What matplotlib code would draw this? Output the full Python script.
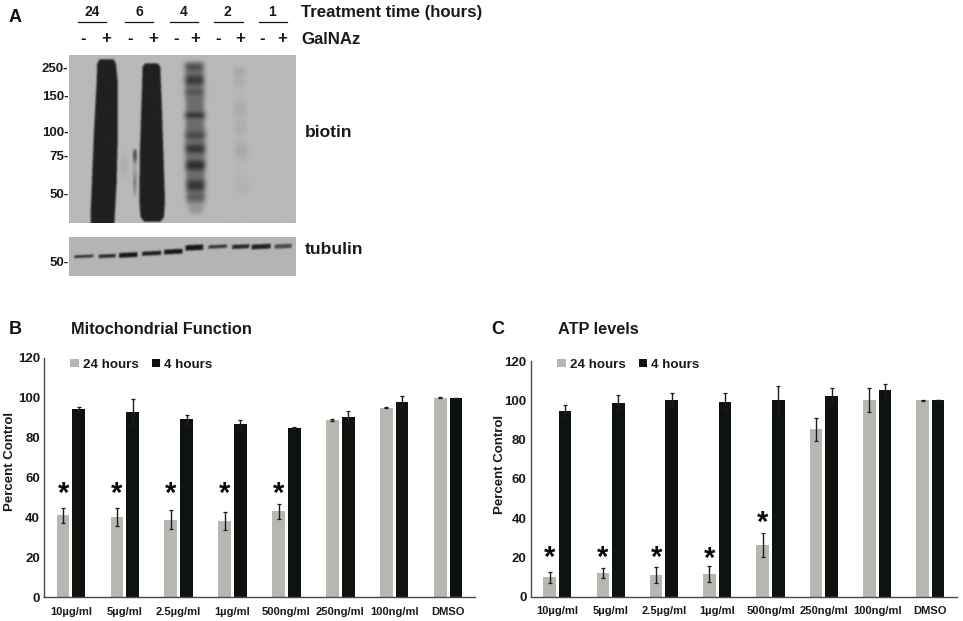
import numpy as np
import matplotlib
matplotlib.use("Agg")
import matplotlib.pyplot as plt

plt.rcParams['font.family'] = ['Liberation Sans', 'DejaVu Sans']
plt.rcParams['font.weight'] = 'bold'

W, H = 963, 621
GRAY = '#b6b7b1'
BLACK = '#0f1310'
TXT = '#1a1a1a'

categories = ['10µg/ml', '5µg/ml', '2.5µg/ml', '1µg/ml', '500ng/ml', '250ng/ml', '100ng/ml', 'DMSO']
y_ticks = [0, 20, 40, 60, 80, 100, 120]

mito_24 = [41.0, 40.0, 38.9, 38.2, 43.0, 89.0, 95.0, 100.0]
mito_24_err = [3.6, 4.5, 4.8, 4.7, 3.8, 0.5, 0.3, 0.2]
mito_4 = [94.5, 92.8, 89.1, 86.6, 84.8, 90.5, 98.0, 100.0]
mito_4_err = [1.0, 6.7, 2.4, 2.4, 0.5, 2.8, 2.7, 0.0]
mito_star = [True, True, True, True, True, False, False, False]
mito_star_y = [53.2, 53.2, 53.2, 53.2, 53.2, 0, 0, 0]

atp_24 = [9.8, 11.9, 11.0, 11.4, 26.3, 85.2, 100.0, 100.0]
atp_24_err = [3.0, 2.6, 4.1, 4.1, 6.0, 5.7, 6.0, 0.2]
atp_4 = [94.4, 98.8, 100.0, 99.2, 100.3, 102.4, 105.3, 100.0]
atp_4_err = [3.0, 3.9, 3.6, 4.4, 7.2, 3.7, 3.0, 0.0]
atp_star = [True, True, True, True, True, False, False, False]
atp_star_y = [21.4, 21.4, 21.4, 20.9, 39.1, 0, 0, 0]

treat_labels = ['24', '6', '4', '2', '1']
mw_biotin = ['250', '150', '100', '75', '50']
mw_tubulin = ['50']

fig = plt.figure(figsize=(W / 100, H / 100), dpi=100, facecolor='white')


def axpx(x0, y0, x1, y1, **kw):
    return fig.add_axes([x0 / W, 1 - y1 / H, (x1 - x0) / W, (y1 - y0) / H], **kw)


def label(x, y, s, size, ha='left', va='center', **kw):
    fig.text(x / W, 1 - y / H, s, fontsize=size, ha=ha, va=va, color=kw.pop('color', TXT), **kw)


def blur(a, sigma):
    r = int(3 * sigma) + 1
    k = np.exp(-0.5 * (np.arange(-r, r + 1) / sigma) ** 2)
    k /= k.sum()
    pad = np.pad(a, r, mode='edge')
    pad = np.apply_along_axis(lambda v: np.convolve(v, k, mode='same'), 0, pad)
    pad = np.apply_along_axis(lambda v: np.convolve(v, k, mode='same'), 1, pad)
    return pad[r:-r, r:-r]


def lane(X, Y, ys, lefts, rights):
    L = np.interp(Y, ys, lefts)
    R = np.interp(Y, ys, rights)
    return ((X > L) & (X < R) & (Y >= ys[0]) & (Y <= ys[-1])).astype(float)


# ---- blot image, in units of 1/3 figure pixel ----
xs = np.arange(208, 888)
ys_b = np.arange(165, 668)
X, Y = np.meshgrid(xs, ys_b)
dark = np.zeros_like(X, dtype=float)

m = lane(X, Y, [178, 190, 250, 400, 550, 640, 700],
         [298, 292, 290, 282, 276, 272, 272], [342, 348, 354, 354, 350, 345, 342])
dark = np.maximum(dark, blur(m, 2.5))
m = lane(X, Y, [190, 200, 300, 450, 600, 650, 663],
         [435, 428, 425, 420, 418, 422, 432], [474, 481, 485, 490, 495, 492, 482])
dark = np.maximum(dark, blur(m, 2.5))

# lane 4 (+): smeared bands
band_y = [200, 240, 275, 345, 405, 445, 495, 555, 590, 625]
band_d = [.72, .85, .68, .95, .75, .88, .95, .88, .62, .25]
band_s = [16, 18, 14, 9, 15, 16, 17, 20, 16, 12]
prof = np.zeros_like(Y, dtype=float)
for by, bd, bs in zip(band_y, band_d, band_s):
    prof = np.maximum(prof, bd * np.exp(-0.5 * ((Y - by) / bs) ** 2))
prof = np.maximum(prof, 0.5 * lane(X, Y, [190, 600], [556, 556], [614, 614]))
m4 = blur(lane(X, Y, [186, 400, 600, 645], [556, 555, 560, 572], [610, 616, 614, 606]), 5)
dark = np.maximum(dark, blur(prof * m4, 5))

# lane 2 (+): faint smear
band_y2 = [215, 245, 325, 380, 450, 560]
band_d2 = [.10, .08, .09, .07, .11, .05]
band_s2 = [16, 16, 22, 24, 20, 30]
prof = np.zeros_like(Y, dtype=float)
for by, bd, bs in zip(band_y2, band_d2, band_s2):
    prof = np.maximum(prof, bd * np.exp(-0.5 * ((Y - by) / bs) ** 2))
dark = np.maximum(dark, prof * blur(lane(X, Y, [195, 580], [700, 708], [735, 745]), 6))

# lane 6 (-): faint streak
prof = 0.7 * np.exp(-0.5 * ((Y - 465) / 16) ** 2) + 0.35 * np.exp(-0.5 * ((Y - 545) / 26) ** 2)
dark = np.maximum(dark, prof * blur(lane(X, Y, [445, 590], [399, 399], [411, 411]), 2.5))
prof = 0.07 * np.exp(-0.5 * ((Y - 495) / 28) ** 2)
dark = np.maximum(dark, prof * blur(lane(X, Y, [450, 550], [362, 362], [384, 384]), 4))

ax_blot = axpx(208 / 3, 165 / 3, 888 / 3, 668 / 3)
ax_blot.imshow(0.725 - 0.60 * dark, cmap='gray', vmin=0, vmax=1, aspect='auto', interpolation='bilinear')
ax_blot.axis('off')

# tubulin image
xs_t = np.arange(208, 888)
ys_t = np.arange(711, 827)
X2, Y2 = np.meshgrid(xs_t, ys_t)
tub_x = [252, 322, 385, 455, 520, 583, 653, 722, 783, 849]
tub_y = [768, 767, 764, 759, 754, 742, 739, 739, 739, 738]
tub_w = [29, 26, 28, 29, 28, 27, 28, 26, 29, 26]
tub_h = [4, 5, 7, 6, 7, 8, 5, 6, 7, 6]
tub_d = [.85, .9, 1, .95, 1, 1, .8, .9, .95, .7]
d2 = np.zeros_like(X2, dtype=float)
for tx, ty, tw, th, td in zip(tub_x, tub_y, tub_w, tub_h, tub_d):
    b = (np.abs(X2 - tx) < tw) & (np.abs(Y2 - ty + (X2 - tx) * 0.05) < th)
    d2 = np.maximum(d2, td * blur(b.astype(float), 2.5))
ax_t = axpx(208 / 3, 711 / 3, 888 / 3, 827 / 3)
ax_t.imshow(0.71 - 0.62 * d2, cmap='gray', vmin=0, vmax=1, aspect='auto', interpolation='bilinear')
ax_t.axis('off')

# ---- panel A annotation ----
label(9, 17, 'A', 13, color='#111111')
label(301, 12.5, 'Treatment time (hours)', 12.1)
label(301, 39, 'GalNAz', 12.1)
label(305, 132.5, 'biotin', 12.5)
label(305, 250, 'tubulin', 12.5)
for s, cx, x0, x1 in zip(treat_labels, [92, 139, 184, 227, 272], [78, 125, 170, 214, 259], [106, 153, 198, 243, 287]):
    label(cx, 12.5, s, 10, ha='center')
    fig.add_artist(plt.Line2D([x0 / W, x1 / W], [1 - 21.7 / H] * 2, color='#111111', lw=0.9))
for xm, xp in zip([83, 130, 176, 218, 262], [106, 153, 195, 240, 282]):
    label(xm, 39, '-', 12, ha='center')
    label(xp, 39, '+', 12, ha='center')
for s, y in zip(mw_biotin, [69.5, 97, 133, 156.5, 195]):
    label(68.5, y, s + '-', 9.5, ha='right')
for s, y in zip(mw_tubulin, [263.5]):
    label(68.5, y, s + '-', 9.5, ha='right')


# ---- bar panels ----
def panel(x0, x1, ytop, y0, v24, e24, v4, e4, show, star_y, ylab_x, ylab_y, lx):
    ax = axpx(x0, ytop, x1, y0)
    ax.patch.set_alpha(0)
    pos = np.arange(len(categories))
    off, w = 0.146, 0.235
    ekw = dict(ecolor='#1c1c1c', elinewidth=1.0, capsize=1.6, capthick=0.9)
    b1 = ax.bar(pos - off, v24, w, color=GRAY, yerr=e24, error_kw=ekw, label='24 hours')
    b2 = ax.bar(pos + off, v4, w, color=BLACK, yerr=e4, error_kw=ekw, label='4 hours')
    for p, s, sy in zip(pos, show, star_y):
        if s:
            ax.text(p - off, sy, '*', fontsize=21, ha='center', va='center_baseline', color='#0a0a0a')
    ax.set_xlim(-0.5, 7.5)
    ax.set_ylim(0, 120)
    ax.set_yticks(y_ticks)
    ax.set_xticks(pos)
    ax.set_xticklabels(categories, fontsize=8)
    ax.tick_params(axis='both', length=0, colors=TXT)
    ax.tick_params(axis='y', labelsize=9.5, pad=3)
    ax.tick_params(axis='x', pad=7)
    for s in ('top', 'right'):
        ax.spines[s].set_visible(False)
    for s in ('left', 'bottom'):
        ax.spines[s].set_color('#4a4a4a')
        ax.spines[s].set_linewidth(1.0)
    fig.text(ylab_x / W, 1 - ylab_y / H, 'Percent Control', rotation=90, fontsize=9.5,
             ha='center', va='center', color=TXT)
    ax.legend(handles=[b1, b2], ncol=2, frameon=False, loc='center left',
              bbox_to_anchor=((lx - x0) / (x1 - x0), 1 - (364.7 - ytop) / (y0 - ytop)),
              prop={'size': 9.6, 'weight': 'bold'}, handlelength=0.62, handleheight=0.62,
              handletextpad=0.3, columnspacing=1.0, borderpad=0, borderaxespad=0, labelcolor=TXT)
    return ax


panel(44, 475, 357.7, 597.3, mito_24, mito_24_err, mito_4, mito_4_err,
      mito_star, mito_star_y, 10.5, 461, 70.3)
panel(530.7, 957, 361, 596.7, atp_24, atp_24_err, atp_4, atp_4_err,
      atp_star, atp_star_y, 499.5, 464, 557.3)

label(9, 329, 'B', 13, color='#111111')
label(71, 329, 'Mitochondrial Function', 11.8)
label(491, 329, 'C', 13, color='#111111')
label(558, 329, 'ATP levels', 11.8)

fig.savefig('out.png', dpi=100)
